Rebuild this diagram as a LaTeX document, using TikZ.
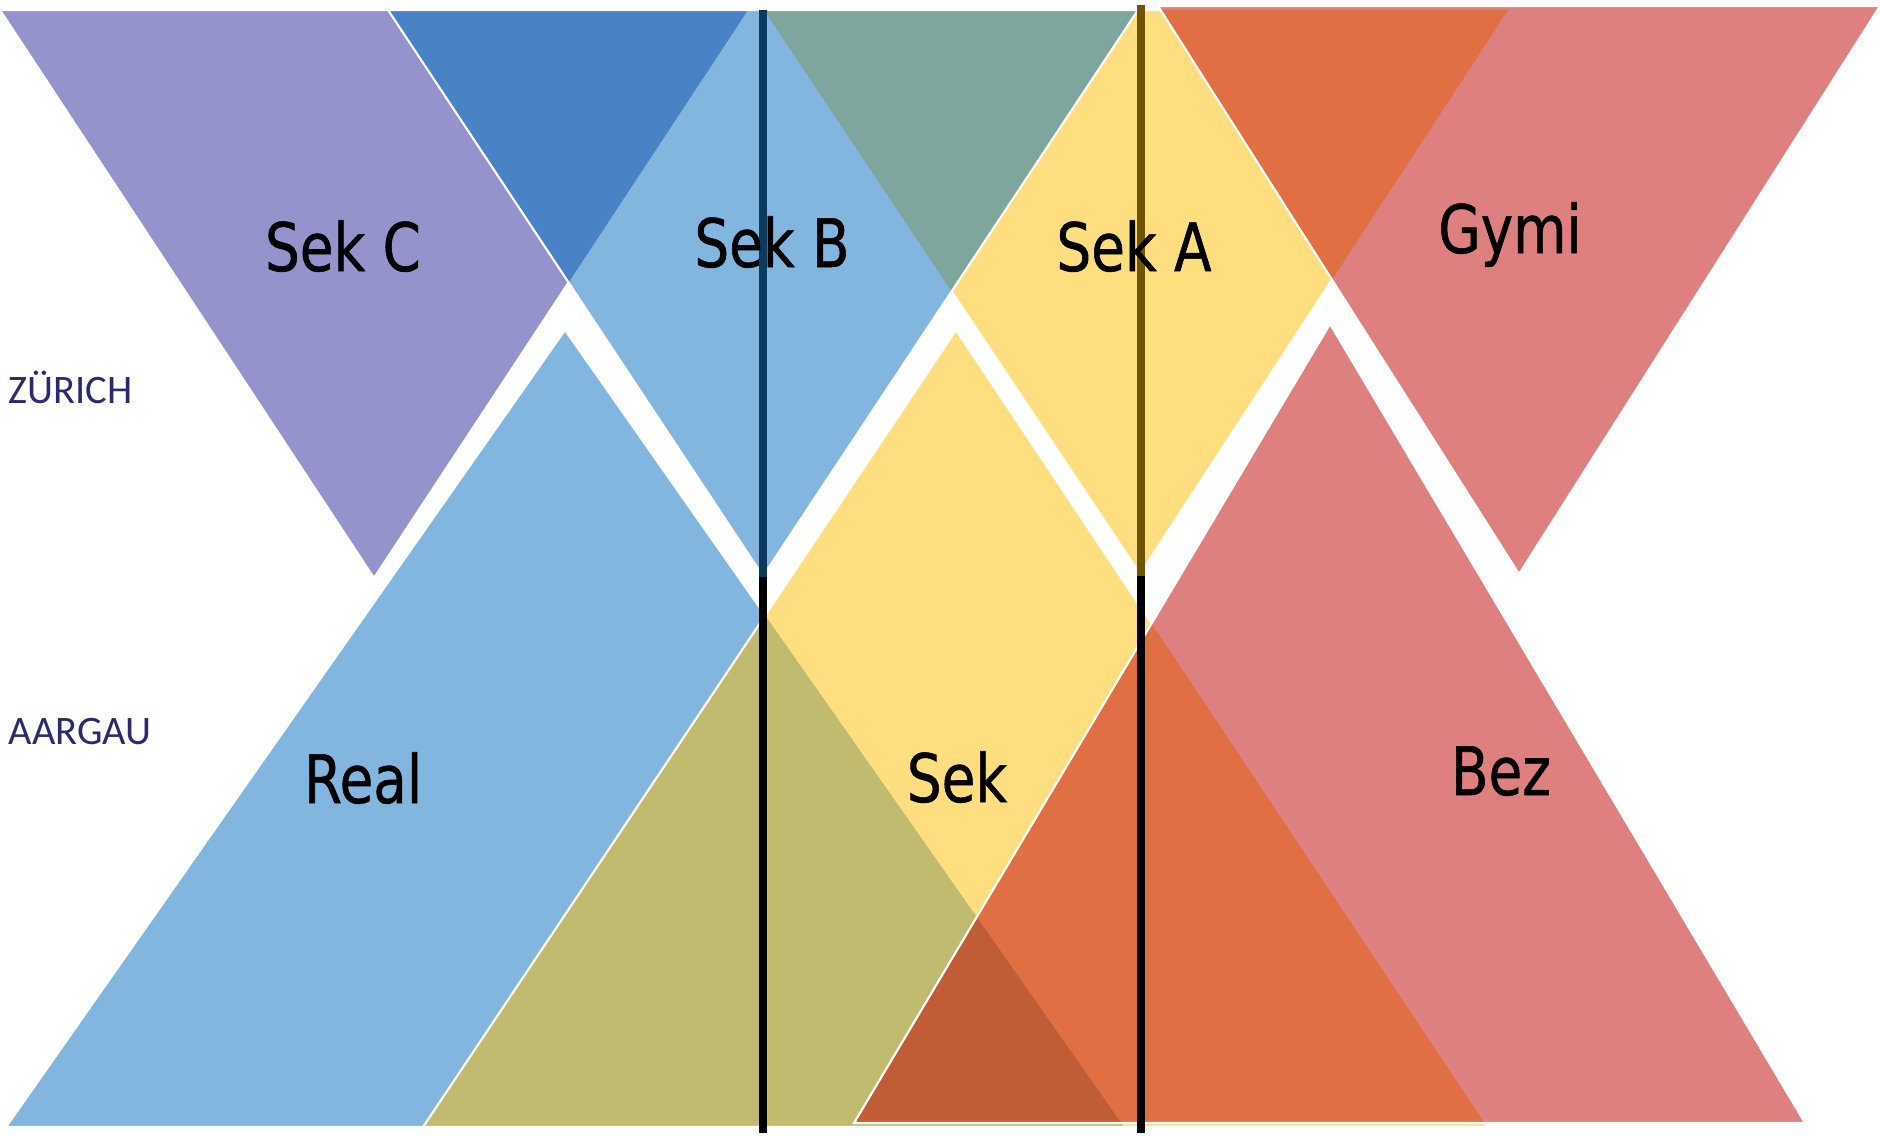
\documentclass[tikz,border=0pt]{standalone}
\usepackage{fontspec}
\setmainfont{DejaVu Sans}
\newfontfamily\bigfont{DejaVu Sans}[FakeStretch=0.82,FakeBold=0.8]
\newfontfamily\smallfont{Carlito}

\definecolor{sekcfill}{HTML}{9493CB}
\definecolor{sekcbfill}{HTML}{4A82C6}
\definecolor{bluefill}{HTML}{82B6DE}
\definecolor{sekbafill}{HTML}{7FA69D}
\definecolor{yellowfill}{HTML}{FFDE80}
\definecolor{orangefill}{HTML}{E07043}
\definecolor{pinkfill}{HTML}{DE7F80}
\definecolor{realsekfill}{HTML}{C0BB6F}
\definecolor{triplefill}{HTML}{C05D37}
\definecolor{navyline}{HTML}{0C3A5C}
\definecolor{brownline}{HTML}{705500}
\definecolor{cantontext}{HTML}{2B2A6E}

\begin{document}
\begin{tikzpicture}[x=0.01cm,y=-0.01cm,
  tri/.style={draw=white,line width=0.6pt},
  divider/.style={line width=2.2pt},
  lbl/.style={font=\bigfont\fontsize{19}{23}\selectfont,anchor=base,inner sep=0pt},
  canton/.style={font=\smallfont\fontsize{11.5}{14}\selectfont,text=cantontext,anchor=base west,inner sep=0pt}]
\useasboundingbox (0,0) rectangle (1880,1135);

% Zuerich
\coordinate (c1) at (0,10);
\coordinate (c2) at (748,10);
\coordinate (c3) at (374,578);
\coordinate (b1) at (388,10);
\coordinate (b2) at (1138,10);
\coordinate (b3) at (763,576);
\coordinate (a1) at (764,10);
\coordinate (a2) at (1508,10);
\coordinate (a3) at (1140,574);
\coordinate (g1) at (1158,6);
\coordinate (g2) at (1880,6);
\coordinate (g3) at (1519,574);

% Aargau
\coordinate (r1) at (6,1127);
\coordinate (r2) at (1124,1127);
\coordinate (r3) at (565,330);
\coordinate (s1) at (423,1127);
\coordinate (s2) at (1487,1127);
\coordinate (s3) at (956,330);
\coordinate (z1) at (854,1123);
\coordinate (z2) at (1805,1123);
\coordinate (z3) at (1330,324);

\fill[sekcfill] (c1) -- (c2) -- (c3) -- cycle;
\draw[tri] (c1) -- (c2) -- (c3) -- cycle;
\fill[yellowfill] (a1) -- (a2) -- (a3) -- cycle;
\draw[tri] (a1) -- (a2) -- (a3) -- cycle;
\fill[bluefill] (b1) -- (b2) -- (b3) -- cycle;
\begin{scope}
\clip (b1) -- (b2) -- (b3) -- cycle;
\fill[sekcbfill] (c1) -- (c2) -- (c3) -- cycle;
\fill[sekbafill] (a1) -- (a2) -- (a3) -- cycle;
\end{scope}
\draw[tri] (b1) -- (b2) -- (b3) -- cycle;
\fill[pinkfill] (g1) -- (g2) -- (g3) -- cycle;
\begin{scope}
\clip (g1) -- (g2) -- (g3) -- cycle;
\fill[orangefill] (a1) -- (a2) -- (a3) -- cycle;
\end{scope}
\draw[tri] (g1) -- (g2) -- (g3) -- cycle;

\fill[bluefill] (r1) -- (r2) -- (r3) -- cycle;
\draw[tri] (r1) -- (r2) -- (r3) -- cycle;
\fill[yellowfill] (s1) -- (s2) -- (s3) -- cycle;
\begin{scope}
\clip (s1) -- (s2) -- (s3) -- cycle;
\fill[realsekfill] (r1) -- (r2) -- (r3) -- cycle;
\end{scope}
\draw[tri] (s1) -- (s2) -- (s3) -- cycle;
\fill[pinkfill] (z1) -- (z2) -- (z3) -- cycle;
\begin{scope}
\clip (z1) -- (z2) -- (z3) -- cycle;
\fill[orangefill] (s1) -- (s2) -- (s3) -- cycle;
\clip (r1) -- (r2) -- (r3) -- cycle;
\fill[triplefill] (s1) -- (s2) -- (s3) -- cycle;
\end{scope}
\draw[tri] (z1) -- (z2) -- (z3) -- cycle;

\coordinate (l1top) at (763,10);
\coordinate (l1mid) at (763,577);
\coordinate (l1bot) at (763,1133);
\coordinate (l2top) at (1141,5);
\coordinate (l2mid) at (1141,576);
\coordinate (l2bot) at (1141,1133);
\draw[divider,navyline] (l1top) -- (l1mid);
\draw[divider,black] (l1mid) -- (l1bot);
\draw[divider,brownline] (l2top) -- (l2mid);
\draw[divider,black] (l2mid) -- (l2bot);

\node[lbl] (sekc) at (343,271) {Sek C};
\node[lbl] (sekb) at (772,267) {Sek B};
\node[lbl] (seka) at (1134,271) {Sek A};
\node[lbl] (gymi) at (1510,253) {Gymi};
\node[lbl] (real) at (363,803) {Real};
\node[lbl] (sek) at (957,802) {Sek};
\node[lbl] (bez) at (1501,795) {Bez};
\node[canton] (zuerich) at (8,403) {ZÜRICH};
\node[canton] (aargau) at (8,744) {AARGAU};
\end{tikzpicture}
\end{document}
